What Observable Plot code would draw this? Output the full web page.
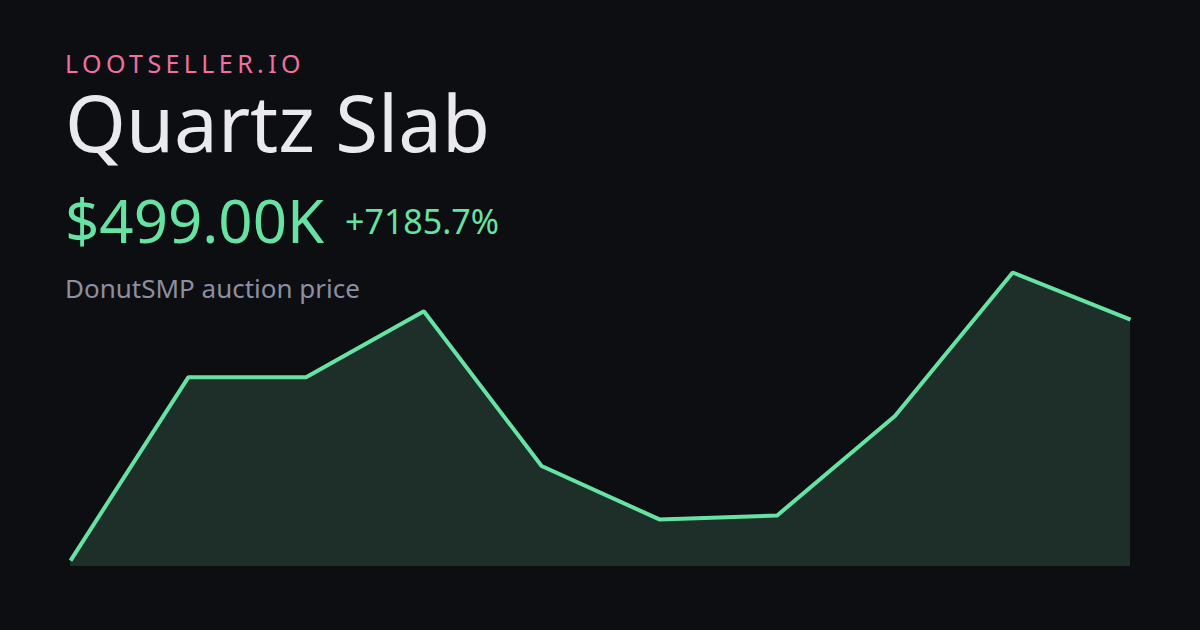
<!DOCTYPE html>
<html>
<head>
<meta charset="utf-8">
<script src="https://cdn.jsdelivr.net/npm/d3@7"></script>
<script src="https://cdn.jsdelivr.net/npm/@observablehq/plot@0.6"></script>
<style>
  html, body { margin: 0; padding: 0; background: #0d0e12; }
  #wrap { position: relative; width: 1200px; height: 630px; overflow: hidden; background: #0d0e12; font-family: "Noto Sans", sans-serif; }
  .t { position: absolute; left: 65px; line-height: 1; white-space: nowrap; }
  #brand { top: 51px; font-size: 25px; letter-spacing: 4.4px; color: #f0709f; }
  #title { top: 83px; font-size: 78px; color: #e9e9ee; }
  #price { top: 190px; font-size: 60px; color: #66e3a3; }
  #pct { top: 204px; left: 345px; font-size: 34px; color: #66e3a3; }
  #sub { top: 275px; font-size: 26px; color: #8c8fa1; }
  #chart { position: absolute; left: 0; top: 0; }
</style>
</head>
<body>
<div id="wrap">
  <div id="chart"></div>
  <div class="t" id="brand">LOOTSELLER.IO</div>
  <div class="t" id="title">Quartz Slab</div>
  <div class="t" id="price">$499.00K</div>
  <div class="t" id="pct">+7185.7%</div>
  <div class="t" id="sub">DonutSMP auction price</div>
</div>
<script>
// Auction price points (thousands of $), oldest to newest
const periods = [0, 1, 2, 3, 4, 5, 6, 7, 8, 9];
const pricesK = [6.86, 381, 381, 516, 200, 91, 99, 302, 595, 499];

const data = periods.map((p, i) => ({ p, v: pricesK[i] }));
const vMin = d3.min(pricesK), vMax = d3.max(pricesK);
const base = vMin - (vMax - vMin) * 0.0205;

const chart = Plot.plot({
  width: 1200,
  height: 630,
  marginLeft: 70,
  marginRight: 70,
  marginTop: 272,
  marginBottom: 64,
  style: { background: "transparent", overflow: "visible" },
  x: { domain: [0, 9], axis: null },
  y: { domain: [base, vMax], axis: null },
  marks: [
    Plot.areaY(data, { x: "p", y1: base, y2: "v", fill: "#1e2f29" }),
    Plot.line(data, { x: "p", y: "v", stroke: "#66e3a3", strokeWidth: 4, strokeLinejoin: "miter", strokeLinecap: "butt" })
  ]
});
document.getElementById("chart").appendChild(chart);
</script>
</body>
</html>
